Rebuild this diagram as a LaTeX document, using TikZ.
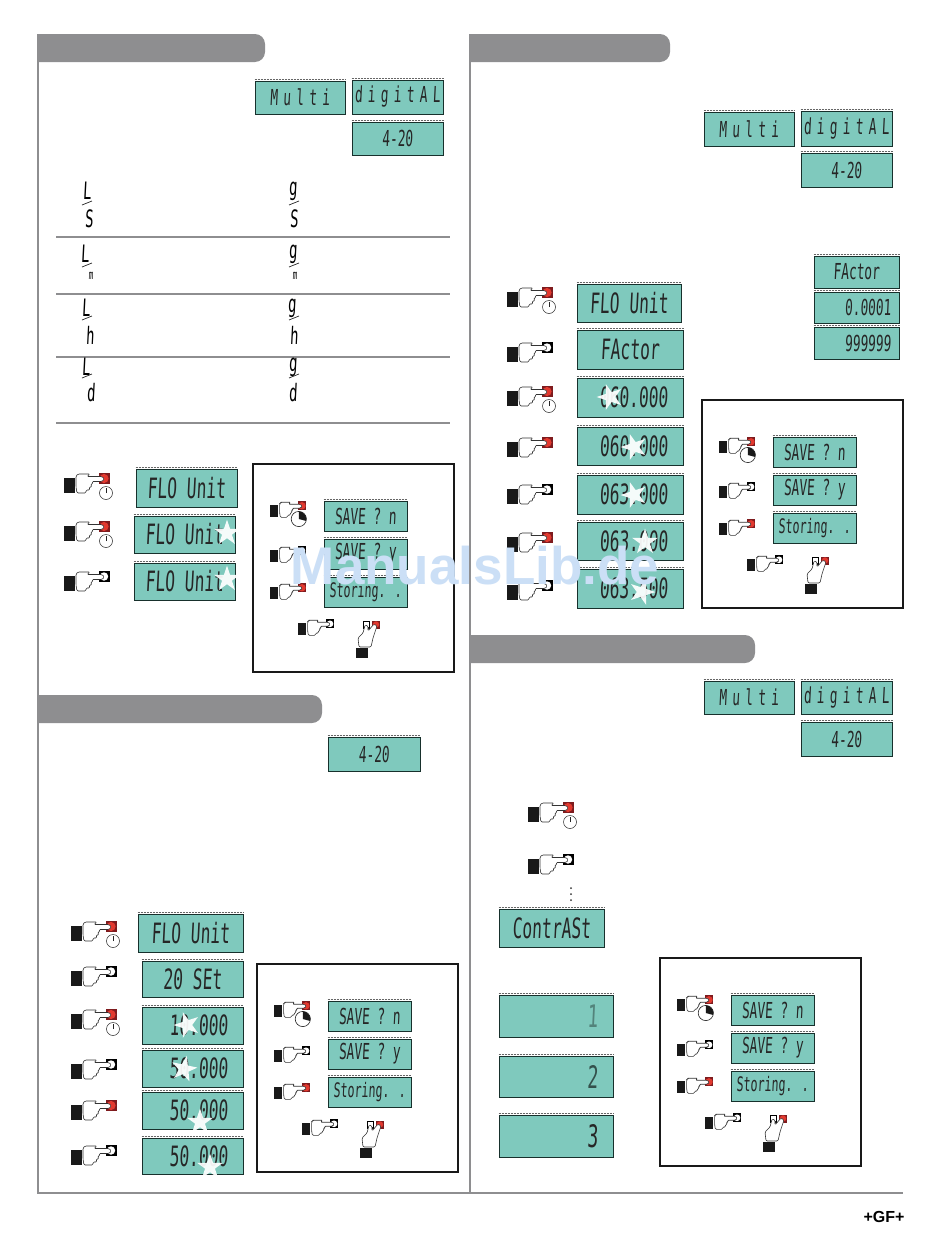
\documentclass[tikz,border=0pt]{standalone}
\usepackage{fontspec}
\usepackage{tikz}
\usetikzlibrary{shapes.geometric}
\setmainfont{Liberation Sans}
\newfontfamily\lcdfont[FakeStretch=.58,FakeSlant=.05]{DejaVu Sans Mono}
\newfontfamily\lcdwide[FakeStretch=.58,FakeSlant=.05,LetterSpace=24]{DejaVu Sans Mono}
\definecolor{lcdteal}{HTML}{7FC9BD}
\definecolor{lcdedge}{HTML}{17302C}
\definecolor{headgray}{HTML}{8E8E90}
\definecolor{keyred}{HTML}{E2392F}
\definecolor{keyframe}{HTML}{7E1B1E}
\definecolor{markblue}{HTML}{CBDFF6}
\tikzset{
	lcdbox/.style={draw=lcdedge,fill=lcdteal,line width=.9pt,inner sep=0pt,text=black!85},
	lcdbig/.style={font=\lcdfont\fontsize{28}{28}\selectfont},
	lcdhuge/.style={font=\lcdfont\fontsize{31}{31}\selectfont},
	lcdsmall/.style={font=\lcdfont\fontsize{22}{22}\selectfont},
	lcdstore/.style={font=\lcdfont\fontsize{20}{20}\selectfont},
	lcdspread/.style={font=\lcdwide\fontsize{22}{22}\selectfont},
	lcdright/.style={text width=#1 pt,align=right},
	lcdtick/.style={draw=black!60,line width=1.1pt,dash pattern=on .7pt off .8pt},
	unitmark/.style={font=\lcdfont\fontsize{24}{24}\selectfont,inner sep=0pt},
	hint/.style={star,star points=5,star point ratio=2.6,fill=white,fill opacity=.93,inner sep=0pt,minimum size=27pt},
	rule/.style={draw=headgray,line width=1.6pt},
	pics/hand/.style 2 args={code={
		% button under the finger
		\ifnum#1=1
			\fill[keyframe] (29.5,-12) rectangle (40.5,-1);
			\fill[keyred] (35,-6.5) circle (4.6);
		\else
			\fill[black] (29.5,-12) rectangle (40.5,-1);
			\fill[white] (35,-6.5) circle (4.2);
		\fi
		\fill[black!90] (-5.5,-7.5) rectangle (5.5,7.5);
		\filldraw[fill=white,draw=black!80,line width=.6pt,rounded corners=1.2pt] (7,-9) -- (9,-11) -- (21,-11) -- (18,-8.5) -- (33,-8.5) -- (35.5,-6) -- (33,-3.5) -- (23,-3.5) -- (24,-1) -- (21.5,-1) -- (23,2) -- (20,2) -- (21,5) -- (17,5) -- (17,8) -- (8,8) -- (7,2) -- cycle;
		\ifnum#2=1
			\filldraw[fill=white,draw=black!85,line width=.5pt] (37,8) circle (6.5);
			\draw[black!85,line width=.5pt] (37,8) -- (37,3);
		\fi
		\ifnum#2=2
			\filldraw[fill=white,draw=black!85,line width=.6pt] (31,10) circle (9.5);
			\fill[black!90] (31,10) -- (31,.5) arc (-90:15:9.5) -- cycle;
		\fi
	}},
	pics/twohand/.style={code={
		\fill[black] (.5,-32.5) rectangle (8,-24.5);
		\fill[white] (2,-31) rectangle (6.5,-26);
		\fill[keyframe] (10,-32.5) rectangle (18,-24.5);
		\fill[keyred] (14,-28.5) circle (3.2);
		\fill[black!90] (-6,-5) rectangle (6,5);
		\filldraw[fill=white,draw=black!80,line width=.6pt,rounded corners=1.2pt] (-3,-6) -- (-4,-15) -- (1,-20) -- (3,-28) -- (6,-27) -- (6,-22) -- (12,-29) -- (15,-27) -- (11,-15) -- (9,-6) -- cycle;
	}},
	pics/savebox/.style={code={
		\draw[black!90,line width=2pt] (0,0) rectangle (201,208);
		\lcdshow[lcdsmall]{-n}{71}{37}{154}{67}{SAVE ? n}
		\lcdshow[lcdsmall]{-y}{71}{75}{154}{105}{SAVE ? y}
		\lcdshow[lcdstore]{-s}{71}{113}{154}{143}{Storing. .}
		\path (21,47) pic[scale=.8] {hand={1}{2}};
		\path (21,92) pic[scale=.8] {hand={0}{0}};
		\path (21,129) pic[scale=.8] {hand={1}{0}};
		\path (49,165) pic[scale=.8] {hand={0}{0}};
		\path (109,189) pic {twohand};
	}}
}
% display: name, corners in pixels of the page, text
\newcommand{\lcdshow}[7][lcdbig]{%
	\node[lcdbox,#1,minimum width={(#5-#3)*1pt},minimum height={(#6-#4)*1pt}] (#2) at ({(#3+#5)/2},{(#4+#6)/2}) {#7};
	\draw[lcdtick] ([yshift=1.1pt]#2.north west) -- ([yshift=1.1pt]#2.north east);
}
\begin{document}
\begin{tikzpicture}[x=1pt,y=-1pt]
	\useasboundingbox[fill=white] (0,0) rectangle (950,1237);
	% frame and section heads
	\draw[rule] (38,34) -- (38,1193) -- (903,1193);
	\draw[rule] (470,34) -- (470,1193);
	\foreach \hx/\hy in {38/265,470/670}
		\fill[headgray] (\hx,34) [rounded corners=10pt] -- (\hx+60,34) -- (\hy,34) -- (\hy,62) -- (\hx+60,62) [sharp corners] -- (\hx,62) -- cycle;
	\fill[headgray] (470,635) [rounded corners=10pt] -- (530,635) -- (755,635) -- (755,663) -- (530,663) [sharp corners] -- (470,663) -- cycle;
	\fill[headgray] (38,695) [rounded corners=10pt] -- (98,695) -- (322,695) -- (322,723) -- (98,723) [sharp corners] -- (38,723) -- cycle;

	% flow unit section
	\lcdshow[lcdspread]{multiA}{255}{81}{345}{114}{Multi}
	\lcdshow[lcdspread]{digitalA}{352}{80}{443}{114}{digitAL}
	\lcdshow[lcdsmall]{rangeA}{352}{122}{443}{155}{4-20}
	\foreach \ly in {237,294,357,423}
		\draw[rule] (56,\ly) -- (450,\ly);
	\node[unitmark] (unita1) at (87,191) {L};
	\node[unitmark] (unitb1) at (293,191) {g};
	\node[unitmark] (unitc1) at (89,219) {S};
	\node[unitmark] (unitd1) at (294,219) {S};
	\node[unitmark] (unita2) at (85,254) {L};
	\node[unitmark] (unitb2) at (293,254) {g};
	\node[unitmark,font=\lcdfont\fontsize{13}{13}\selectfont] (unitc2) at (91,276) {m};
	\node[unitmark,font=\lcdfont\fontsize{13}{13}\selectfont] (unitd2) at (295,276) {m};
	\node[unitmark] (unita3) at (86,308) {L};
	\node[unitmark] (unitb3) at (292,308) {g};
	\node[unitmark] (unitc3) at (90,335) {h};
	\node[unitmark] (unitd3) at (294,335) {h};
	\node[unitmark] (unita4) at (86,367) {L};
	\node[unitmark] (unitb4) at (293,367) {g};
	\node[unitmark] (unitc4) at (91,393) {d};
	\node[unitmark] (unitd4) at (293,393) {d};
	\foreach \ux in {87,294}
		\foreach \uy in {203,265,318,376}
			\draw[black!85,line width=.7pt] (\ux-5,\uy+2) -- (\ux+5,\uy-2);
	\foreach \hy/\hk/\hc in {485/1/1,533/1/1,583/0/0}
		\path (69,\hy) pic {hand={\hk}{\hc}};
	\lcdshow{unitA}{136}{469}{237}{507}{FLO Unit}
	\lcdshow{unitB}{134}{516}{235}{553}{FLO Unit}
	\lcdshow{unitC}{134}{563}{235}{600}{FLO Unit}
	\node[hint] (hintA) at (227,533) {};
	\node[hint] (hintB) at (227,579) {};
	\path (253,464) pic (saveA) {savebox};

	% 20 mA section
	\lcdshow[lcdsmall]{rangeB}{328}{737}{420}{771}{4-20}
	\foreach \hy/\hk/\hc in {933/1/1,978/0/0,1021/1/1,1071/0/0,1112/1/0,1157/0/0}
		\path (76,\hy) pic {hand={\hk}{\hc}};
	\lcdshow{setA}{138}{914}{243}{952}{FLO Unit}
	\lcdshow{setB}{142}{961}{243}{997}{20 SEt}
	\lcdshow[lcdbig,lcdright=71]{setC}{142}{1007}{243}{1044}{10.000}
	\lcdshow[lcdbig,lcdright=71]{setD}{142}{1050}{243}{1087}{50.000}
	\lcdshow[lcdbig,lcdright=71]{setE}{142}{1092}{243}{1129}{50.000}
	\lcdshow[lcdbig,lcdright=71]{setF}{142}{1138}{243}{1174}{50.000}
	\node[hint,rotate=90] (hintC) at (187,1025) {};
	\node[hint,rotate=60] (hintD) at (184,1069) {};
	\node[hint] (hintE) at (200,1122) {};
	\node[hint] (hintF) at (210,1167) {};
	\path (257,964) pic (saveB) {savebox};

	% factor section
	\lcdshow[lcdspread]{multiC}{704}{112}{794}{146}{Multi}
	\lcdshow[lcdspread]{digitalC}{801}{111}{892}{146}{digitAL}
	\lcdshow[lcdsmall]{rangeC}{801}{153}{892}{187}{4-20}
	\lcdshow[lcdsmall]{limitA}{814}{256}{899}{288}{FActor}
	\lcdshow[lcdsmall,lcdright=69]{limitB}{814}{292}{899}{323}{0.0001}
	\lcdshow[lcdsmall,lcdright=69]{limitC}{814}{327}{899}{359}{999999}
	\foreach \hy/\hk/\hc in {299/1/1,354/0/0,398/1/1,449/1/0,496/0/0,544/1/0,592/0/0}
		\path (512,\hy) pic {hand={\hk}{\hc}};
	\lcdshow{factA}{577}{284}{681}{322}{FLO Unit}
	\lcdshow{factB}{577}{330}{683}{369}{FActor}
	\lcdshow[lcdbig,lcdright=76]{factC}{577}{378}{683}{417}{060.000}
	\lcdshow[lcdbig,lcdright=76]{factD}{577}{427}{683}{465}{060.000}
	\lcdshow[lcdbig,lcdright=76]{factE}{577}{475}{683}{514}{063.000}
	\lcdshow[lcdbig,lcdright=76]{factF}{577}{522}{683}{560}{063.000}
	\lcdshow[lcdbig,lcdright=76]{factG}{577}{569}{683}{608}{063.500}
	\node[hint,rotate=90] (hintG) at (610,397) {};
	\node[hint,rotate=90] (hintH) at (634,447) {};
	\node[hint,rotate=90] (hintI) at (634,495) {};
	\node[hint] (hintJ) at (645,542) {};
	\node[hint,rotate=-90] (hintK) at (642,592) {};
	\path (702,400) pic (saveC) {savebox};

	% contrast section
	\lcdshow[lcdspread]{multiD}{704}{681}{794}{714}{Multi}
	\lcdshow[lcdspread]{digitalD}{801}{681}{892}{714}{digitAL}
	\lcdshow[lcdsmall]{rangeD}{801}{722}{892}{756}{4-20}
	\path (533,814) pic {hand={1}{1}};
	\path (533,866) pic {hand={0}{0}};
	\foreach \dy in {888,894,900}
		\fill[black!80] (571,\dy) circle (1);
	\lcdshow{contA}{499}{909}{604}{947}{ContrASt}
	\lcdshow[lcdhuge,lcdright=84,text=black!35!lcdteal]{contB}{499}{995}{613}{1037}{1}
	\lcdshow[lcdhuge,lcdright=84,text=black!60!lcdteal]{contC}{499}{1056}{613}{1097}{2}
	\lcdshow[lcdhuge,lcdright=84]{contD}{499}{1115}{613}{1157}{3}
	\path (660,958) pic (saveD) {savebox};

	\node[font=\bfseries\fontsize{16}{16}\selectfont,inner sep=0pt] (gflogo) at (884,1217) {+GF+};
	\node[font=\bfseries\fontsize{53}{53}\selectfont,text=markblue,inner sep=0pt] (watermark) at (475,566) {ManualsLib.de};
\end{tikzpicture}
\end{document}
